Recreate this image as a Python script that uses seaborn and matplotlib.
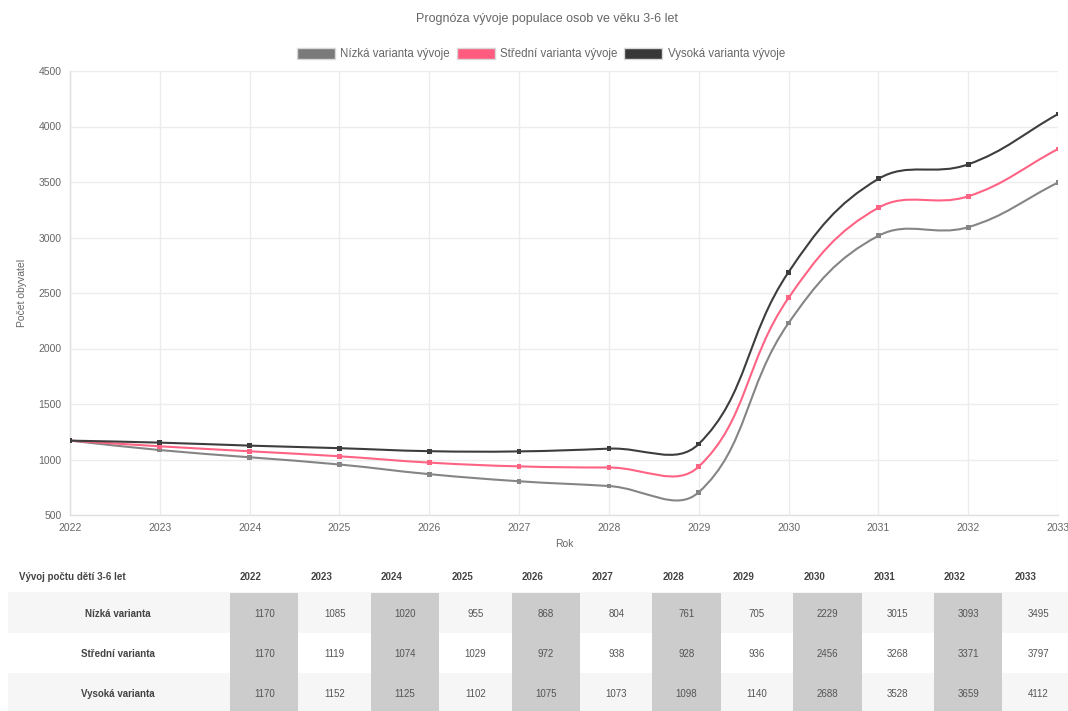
import numpy as np
import pandas as pd
import matplotlib
matplotlib.use("Agg")
import matplotlib.pyplot as plt
import seaborn as sns
from matplotlib.path import Path
from matplotlib.patches import PathPatch, Patch, Rectangle

# --- data ---
years = [2022, 2023, 2024, 2025, 2026, 2027, 2028, 2029, 2030, 2031, 2032, 2033]
nizka = [1170, 1085, 1020, 955, 868, 804, 761, 705, 2229, 3015, 3093, 3495]
stredni = [1170, 1119, 1074, 1029, 972, 938, 928, 936, 2456, 3268, 3371, 3797]
vysoka = [1170, 1152, 1125, 1102, 1075, 1073, 1098, 1140, 2688, 3528, 3659, 4112]

series_names = ["Nízká varianta vývoje", "Střední varianta vývoje", "Vysoká varianta vývoje"]
row_names = ["Nízká varianta", "Střední varianta", "Vysoká varianta"]
line_colors = ["#858585", "#ff6384", "#3d3d3d"]
box_colors = ["#7a7a7a", "#ff5c80", "#383838"]

title = "Prognóza vývoje populace osob ve věku 3-6 let"
table_title = "Vývoj počtu dětí 3-6 let"

df = pd.DataFrame({
    "Rok": years * 3,
    "Počet": nizka + stredni + vysoka,
    "Varianta": [n for n in series_names for _ in years],
})

sns.set_theme(style="white")
plt.rcParams["font.family"] = ["Liberation Sans", "DejaVu Sans"]
text_c = "#666666"

W, H = 1068, 711
fig = plt.figure(figsize=(W / 100, H / 100), dpi=100)
ax = fig.add_axes([70 / W, 1 - 515 / H, (1058 - 70) / W, (515 - 71) / H])
ax.set_xlim(2022, 2033)
ax.set_ylim(500, 4500)
ax.set_xticks(years)
ax.set_yticks(range(500, 4501, 500))
ax.tick_params(axis="both", labelsize=7.5, colors=text_c, length=0, pad=6)
ax.grid(True, color="#ececec", lw=1)
for s in ["top", "right"]:
    ax.spines[s].set_visible(False)
for s in ["left", "bottom"]:
    ax.spines[s].set_color("#e0e0e0")
    ax.spines[s].set_linewidth(1)


def spline_patch(ax, xs, ys, color, t=0.4):
    # chart.js style bezier smoothing, computed in pixel space
    pts = ax.transData.transform(np.column_stack([xs, ys]).astype(float))
    n = len(pts)
    cprev, cnext = [], []
    for i in range(n):
        prev = pts[max(i - 1, 0)]
        cur = pts[i]
        nxt = pts[min(i + 1, n - 1)]
        d01 = np.hypot(*(cur - prev))
        d12 = np.hypot(*(nxt - cur))
        tot = d01 + d12
        s01 = d01 / tot if tot else 0
        s12 = d12 / tot if tot else 0
        cprev.append(cur - t * s01 * (nxt - prev))
        cnext.append(cur + t * s12 * (nxt - prev))
    verts = [pts[0]]
    codes = [Path.MOVETO]
    for i in range(n - 1):
        verts += [cnext[i], cprev[i + 1], pts[i + 1]]
        codes += [Path.CURVE4] * 3
    verts = ax.transData.inverted().transform(np.array(verts))
    ax.add_patch(PathPatch(Path(verts, codes), facecolor="none",
                           edgecolor=color, lw=1.5, zorder=3))


for name, col in zip(series_names, line_colors):
    sub = df[df["Varianta"] == name]
    spline_patch(ax, sub["Rok"].values, sub["Počet"].values, col)

sns.scatterplot(data=df, x="Rok", y="Počet", hue="Varianta",
                palette=dict(zip(series_names, line_colors)),
                s=12, marker="s", edgecolor="none", legend=False, ax=ax, zorder=4)
ax.set_xlabel("Rok", fontsize=7.5, color=text_c, labelpad=4)
ax.set_ylabel("Počet obyvatel", fontsize=7.5, color=text_c, labelpad=8)

fig.text(547 / W, 1 - 19 / H, title, ha="center", va="center", fontsize=9, color=text_c)

handles = [Patch(facecolor=bc, edgecolor="#d8d8d8", lw=1) for bc in box_colors]
fig.legend(handles, series_names, loc="center", bbox_to_anchor=(541 / W, 1 - 54 / H),
           ncol=3, frameon=False, fontsize=8.3, labelcolor=text_c,
           handlelength=3.3, handleheight=1.1, handletextpad=0.45, columnspacing=0.6)

# --- table below the chart ---
tab = fig.add_axes([0, 0, 1, 1], zorder=-1)
tab.set_xlim(0, W)
tab.set_ylim(H, 0)
tab.axis("off")

col_left = 229
col_w = 70.4
row_top = [592, 634, 673]
row_bot = [633, 673, 712]
row_text_y = [614, 654, 694]
row_bg = ["#f6f6f6", "#ffffff", "#f6f6f6"]

tab.text(19, 577, table_title, ha="left", va="center", fontsize=7, fontweight="bold", color="#444444")
for j, yr in enumerate(years):
    tab.text(col_left + j * col_w + 11, 577, str(yr), ha="left", va="center",
             fontsize=7, fontweight="bold", color="#444444")

values = [nizka, stredni, vysoka]
for i in range(3):
    tab.add_patch(Rectangle((8, row_top[i]), W - 8, row_bot[i] - row_top[i],
                            facecolor=row_bg[i], edgecolor="none"))
    tab.text(118, row_text_y[i], row_names[i], ha="center", va="center",
             fontsize=7, fontweight="bold", color="#444444")
for j in range(len(years)):
    x0 = col_left + j * col_w
    if j % 2 == 0:
        tab.add_patch(Rectangle((x0 + 1, 593), col_w - 2, H - 593,
                                facecolor="#cccccc", edgecolor="none"))
    for i in range(3):
        tab.text(x0 + col_w / 2, row_text_y[i], str(values[i][j]), ha="center", va="center",
                 fontsize=7, color="#555555")

fig.savefig("out.png", dpi=100, facecolor="white")
